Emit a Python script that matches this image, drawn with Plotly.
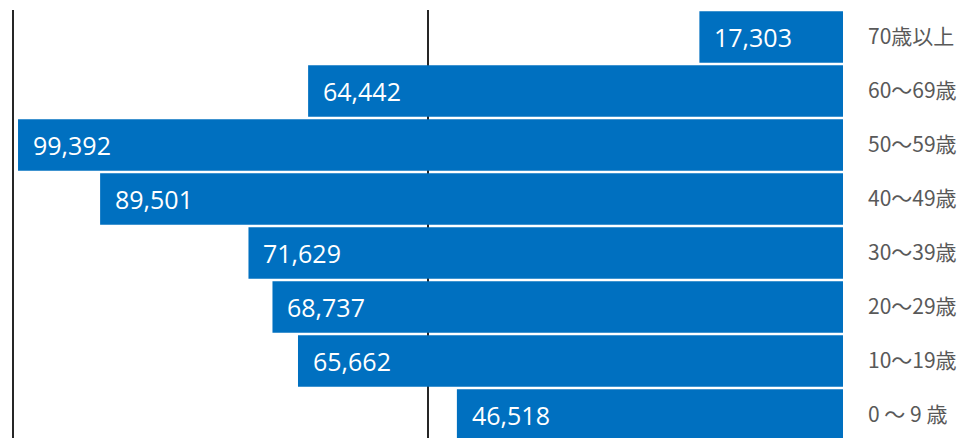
import plotly.graph_objects as go

categories = ["70歳以上", "60～69歳", "50～59歳", "40～49歳", "30～39歳", "20～29歳", "10～19歳", "0 ～ 9 歳"]
values = [17303, 64442, 99392, 89501, 71629, 68737, 65662, 46518]
value_labels = [f"{v:,}" for v in values]

BLUE = "#0070C0"

fig = go.Figure()
fig.add_trace(go.Bar(
    x=values,
    y=categories,
    orientation="h",
    marker=dict(color=BLUE, line=dict(width=0)),
    hoverinfo="skip",
))

for cat, v, lab in zip(categories, values, value_labels):
    fig.add_annotation(
        x=v, y=cat, text=lab, showarrow=False,
        xanchor="left", yanchor="middle", xshift=13,
        font=dict(family="Open Sans", size=25, color="white"),
    )

fig.update_layout(
    width=965, height=438,
    margin=dict(l=0, r=130, t=2, b=8),
    paper_bgcolor="white", plot_bgcolor="white",
    bargap=0.05,
    showlegend=False,
    xaxis=dict(
        range=[100600, 0],
        tickvals=[50000, 100000],
        showticklabels=False,
        showgrid=True, gridcolor="#262626", gridwidth=2,
        zeroline=False, showline=False, ticks="",
        fixedrange=True,
    ),
    yaxis=dict(
        type="category",
        categoryorder="array", categoryarray=categories,
        range=[-0.5 + 428 / 54, -0.5],
        side="right",
        showgrid=False, zeroline=False, showline=False, ticks="",
        ticklabelstandoff=24,
        tickfont=dict(family="Noto Sans CJK JP", size=21, color="#595959"),
        automargin=False,
        fixedrange=True,
    ),
)

fig.write_html("out.html", config={"displayModeBar": False})
